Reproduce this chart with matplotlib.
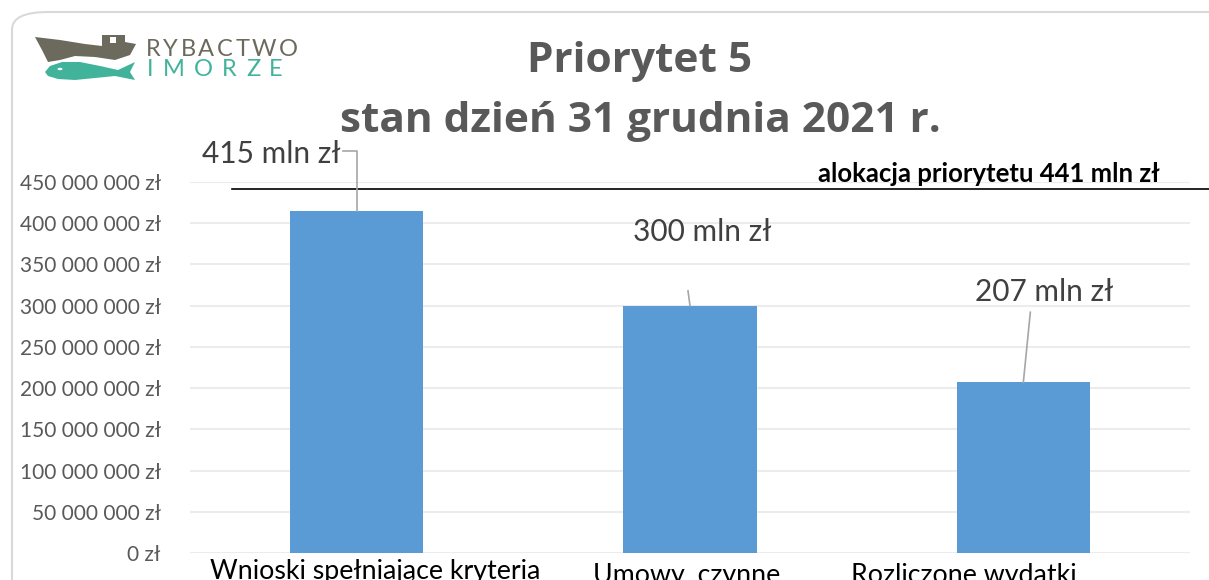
import matplotlib
matplotlib.use("Agg")
import matplotlib.pyplot as plt
import matplotlib.transforms as mtransforms
from matplotlib.patches import FancyBboxPatch, Polygon, Rectangle, Circle
from matplotlib.ticker import FuncFormatter

categories = ["Wnioski spełniające kryteria", "Umowy, czynne", "Rozliczone wydatki"]
values = [415_000_000, 300_000_000, 207_000_000]
value_labels = ["415 mln zł", "300 mln zł", "207 mln zł"]
allocation = 441_000_000
allocation_label = "alokacja priorytetu 441 mln zł"
title_lines = ["Priorytet 5", "stan dzień 31 grudnia 2021 r."]
yticks = list(range(0, 450_000_001, 50_000_000))

W, H = 1209, 580
fig = plt.figure(figsize=(W / 100, H / 100), dpi=100)
fig.patch.set_facecolor("white")

def fx(px):
    return px / W

def fy(py):
    return 1 - py / H

def pts(lst):
    return [(fx(a), fy(b)) for a, b in lst]

# rounded frame
frame = FancyBboxPatch((fx(12), fy(600)), fx(1250), fy(12) - fy(600),
                       boxstyle="round,pad=0,rounding_size=0.03",
                       transform=fig.transFigure, fill=False,
                       edgecolor="#d9d9d9", linewidth=1.5, zorder=0)
fig.add_artist(frame)

ax = fig.add_axes([fx(190), fy(553), fx(1190) - fx(190), fy(182) - fy(553)])
x = list(range(len(categories)))
ax.bar(x, values, width=0.40, color="#5b9bd5", zorder=3)
ax.set_xlim(-0.5, 2.5)
ax.set_ylim(0, 450_000_000)
ax.set_yticks(yticks)
ax.yaxis.set_major_formatter(FuncFormatter(lambda v, p: f"{int(v):,} zł".replace(",", " ")))
ax.grid(axis="y", color="#ececec", linewidth=1.5, zorder=0)
for s in ax.spines.values():
    s.set_visible(False)
ax.tick_params(axis="y", length=0, labelsize=15, labelcolor="#595959", pad=21)
ax.tick_params(axis="x", length=0)
for lab in ax.get_yticklabels():
    lab.set_fontfamily("Lato")
ax.set_xticks(x)
ax.set_xticklabels([])

# category labels (cut off at bottom as in the reference)
cat_tr = mtransforms.blended_transform_factory(ax.transData, fig.transFigure)
cat_dx = [0.057, -0.009, -0.18]
cat_y = [572, 575, 575]
for i, (c, dx, yy) in enumerate(zip(categories, cat_dx, cat_y)):
    ax.text(i + dx, fy(yy), c, transform=cat_tr, fontsize=19.3, fontfamily="Lato",
            color="#000000", ha="center", va="center", clip_on=False)

# allocation line
al_tr = mtransforms.blended_transform_factory(ax.transAxes, ax.transData)
ax.plot([0.042, 1.02], [allocation, allocation], color="black", linewidth=1.2,
        transform=al_tr, clip_on=False, zorder=4)
ax.text(0.97, allocation + 4_000_000, allocation_label, transform=al_tr,
        ha="right", va="bottom", fontsize=18.5, fontweight="bold",
        fontfamily="Lato", color="black")

# data labels with leader lines
label_pos = [(-0.255, 484_000_000), (0.036, 389_000_000), (0.063, 317_000_000)]
for i, (v, lab, (dx, ly)) in enumerate(zip(values, value_labels, label_pos)):
    ax.text(i + dx, ly, lab, ha="center", va="center", fontsize=21.5,
            fontfamily="Lato", color="#404040", clip_on=False)
leader = [
    ([0 - 0.042, 0, 0], [487_000_000, 487_000_000, values[0]]),
    ([1 - 0.006, 1], [318_000_000, values[1]]),
    ([2 + 0.021, 2], [292_000_000, values[2]]),
]
for xs, ys in leader:
    ax.plot(xs, ys, color="#a6a6a6", linewidth=1.2, clip_on=False, zorder=4)

# title
fig.text(fx(640), fy(62), title_lines[0], ha="center", va="center", fontsize=30.5,
         fontweight="bold", fontfamily="Open Sans", color="#595959")
fig.text(fx(640), fy(122), title_lines[1], ha="center", va="center", fontsize=30.5,
         fontweight="bold", fontfamily="Open Sans", color="#595959")

# logo
boat = Polygon(pts([(35, 37), (60, 40), (85, 44), (102, 46), (102, 35), (125, 35),
                    (125, 42), (136, 44), (130, 55), (115, 60), (95, 57), (75, 56),
                    (60, 60), (48, 62), (42, 50)]),
               closed=True, transform=fig.transFigure, facecolor="#6b6a5c", edgecolor="none")
fig.add_artist(boat)
fig.add_artist(Rectangle((fx(110), fy(43)), fx(6), fy(37) - fy(43),
                         transform=fig.transFigure, facecolor="white", edgecolor="none"))
fish = Polygon(pts([(45, 72), (50, 66), (62, 62), (80, 62), (100, 66), (118, 70),
                    (135, 62), (130, 72), (135, 80), (115, 76), (95, 78), (75, 80),
                    (58, 79), (48, 76)]),
               closed=True, transform=fig.transFigure, facecolor="#42b39b", edgecolor="none")
fig.add_artist(fish)
fig.add_artist(Circle((fx(60), fy(69)), fx(2.5), transform=fig.transFigure,
                      facecolor="white", edgecolor="none"))

renderer = fig.canvas.get_renderer()

def tracked(word, x0, x1, ypx, color, size=17):
    arts = []
    widths = []
    for ch in word:
        t = fig.text(0, fy(ypx), ch, ha="left", va="center", fontsize=size,
                     fontfamily="Lato", color=color)
        arts.append(t)
        widths.append(t.get_window_extent(renderer).width)
    gap = ((x1 - x0) - sum(widths)) / (len(word) - 1)
    cur = x0
    for t, w in zip(arts, widths):
        t.set_x(fx(cur))
        cur += w + gap

tracked("RYBACTWO", 146, 298, 49, "#6b6a5c")
tracked("IMORZE", 147, 283, 69, "#42b39b")

fig.savefig("out.png", dpi=100)
